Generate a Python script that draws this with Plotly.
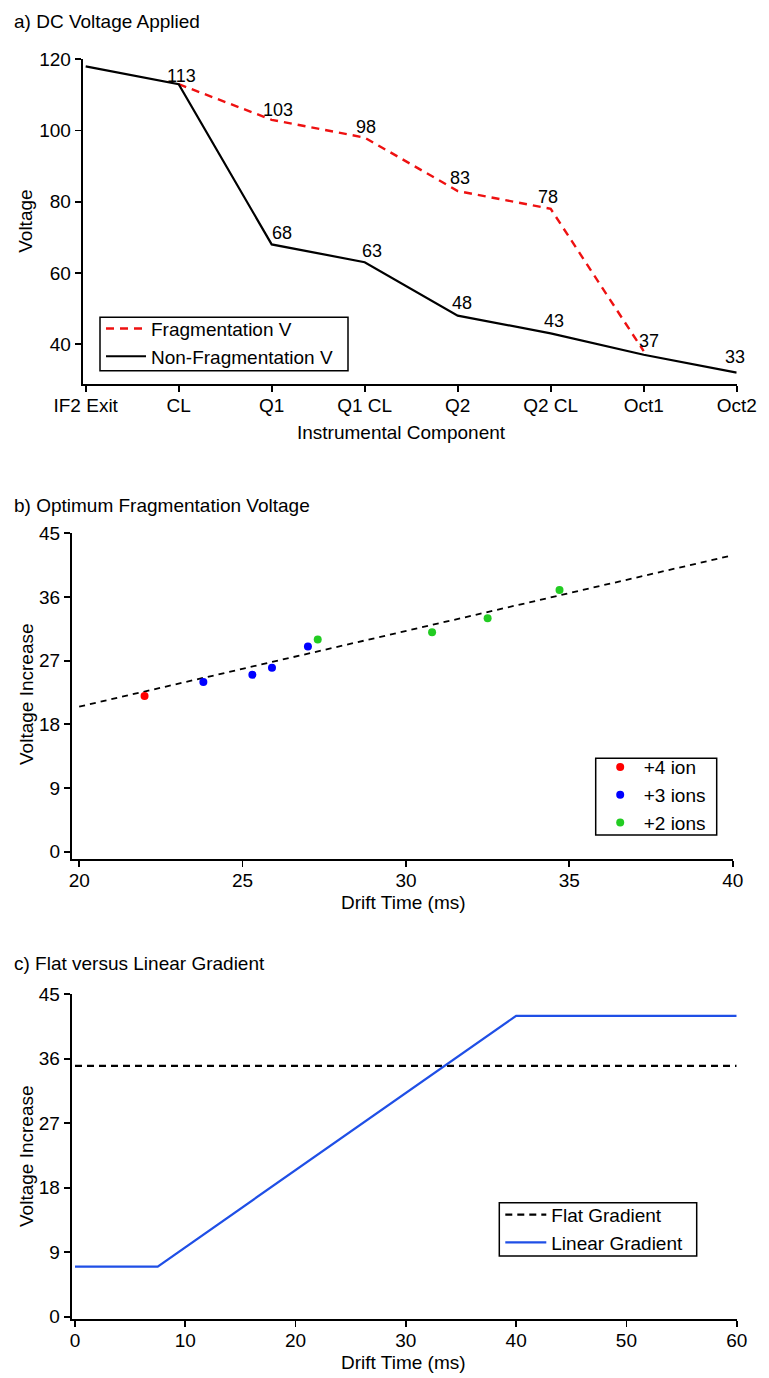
import plotly.graph_objects as go

W, H = 769, 1378
FONT = "Liberation Sans, Arial, sans-serif"
FS = 19

# ---------------- data ----------------
components = ["IF2 Exit", "CL", "Q1", "Q1 CL", "Q2", "Q2 CL", "Oct1", "Oct2"]
nonfrag_v = [118, 113, 68, 63, 48, 43, 37, 32]
frag_components = ["CL", "Q1", "Q1 CL", "Q2", "Q2 CL", "Oct1"]
frag_v = [113, 103, 98, 83, 78, 38]
nonfrag_labels = ["", "113", "68", "63", "48", "43", "", "33"]
frag_labels = ["", "103", "98", "83", "78", "37"]

ion4_x = [22.0]
ion4_y = [22.0]
ion3_x = [23.8, 25.3, 25.9, 27.0]
ion3_y = [24.0, 25.0, 26.0, 29.0]
ion2_x = [27.3, 30.8, 32.5, 34.7]
ion2_y = [30.0, 31.0, 33.0, 37.0]
fit_x = [20, 40]
fit_y = [20.5, 41.9]

flat_x = [0, 60]
flat_y = [35, 35]
lin_x = [0, 7.5, 40, 60]
lin_y = [7, 7, 42, 42]

# label offsets (px) for the data labels in panel a
nonfrag_off = [(0, 0), (3, 8), (10, 11), (7, 11), (4, 13), (3, 12), (0, 0), (-2, 16)]
frag_off = [(0, 0), (6, 10), (1, 11), (2, 13), (-3, 12), (5, 10)]


def px(x):
    return x / W


def py(y):
    return 1 - y / H


fig = go.Figure()

# ---------------- panel a ----------------
fig.add_trace(go.Scatter(x=frag_components, y=frag_v, mode="lines",
                         name="Fragmentation V",
                         line=dict(color="#ee1111", width=2.4, dash="8px,6px"),
                         xaxis="x", yaxis="y", legend="legend"))
fig.add_trace(go.Scatter(x=components, y=nonfrag_v, mode="lines",
                         name="Non-Fragmentation V",
                         line=dict(color="black", width=2.2),
                         xaxis="x", yaxis="y", legend="legend"))

# ---------------- panel b ----------------
fig.add_trace(go.Scatter(x=fit_x, y=fit_y, mode="lines", showlegend=False,
                         line=dict(color="black", width=1.8, dash="6px,5px"),
                         xaxis="x2", yaxis="y2"))
fig.add_trace(go.Scatter(x=ion4_x, y=ion4_y, mode="markers", name="+4 ion",
                         marker=dict(color="#ff0000", size=8),
                         xaxis="x2", yaxis="y2", legend="legend2"))
fig.add_trace(go.Scatter(x=ion3_x, y=ion3_y, mode="markers", name="+3 ions",
                         marker=dict(color="#0000ff", size=8),
                         xaxis="x2", yaxis="y2", legend="legend2"))
fig.add_trace(go.Scatter(x=ion2_x, y=ion2_y, mode="markers", name="+2 ions",
                         marker=dict(color="#22cc22", size=8),
                         xaxis="x2", yaxis="y2", legend="legend2"))

# ---------------- panel c ----------------
fig.add_trace(go.Scatter(x=flat_x, y=flat_y, mode="lines", name="Flat Gradient",
                         line=dict(color="black", width=2.2, dash="7px,5px"),
                         xaxis="x3", yaxis="y3", legend="legend3"))
fig.add_trace(go.Scatter(x=lin_x, y=lin_y, mode="lines", name="Linear Gradient",
                         line=dict(color="#1f4fe6", width=2.2),
                         xaxis="x3", yaxis="y3", legend="legend3"))

annotations = []
for comp, v, lab, (dx, dy) in zip(components, nonfrag_v, nonfrag_labels, nonfrag_off):
    if lab:
        annotations.append(dict(x=comp, y=v, xref="x", yref="y", text=lab,
                                showarrow=False, xanchor="center", yanchor="middle",
                                xshift=dx, yshift=dy, font=dict(size=18)))
for comp, v, lab, (dx, dy) in zip(frag_components, frag_v, frag_labels, frag_off):
    if lab:
        annotations.append(dict(x=comp, y=v, xref="x", yref="y", text=lab,
                                showarrow=False, xanchor="center", yanchor="middle",
                                xshift=dx, yshift=dy, font=dict(size=18)))

# panel titles
for text, ycen in [("a) DC Voltage Applied", 21.7),
                   ("b) Optimum Fragmentation Voltage", 505),
                   ("c) Flat versus Linear Gradient", 963)]:
    annotations.append(dict(x=px(12), y=py(ycen), xref="paper", yref="paper",
                            text=text, showarrow=False, xanchor="left",
                            yanchor="middle"))
# axis titles
for text, xc, yc, ang in [("Voltage", 26, 221.8, -90),
                          ("Instrumental Component", 401, 433, 0),
                          ("Voltage Increase", 26, 694, -90),
                          ("Drift Time (ms)", 404, 902, 0),
                          ("Voltage Increase", 26, 1156, -90),
                          ("Drift Time (ms)", 404, 1362, 0)]:
    annotations.append(dict(x=px(xc), y=py(yc), xref="paper", yref="paper",
                            text=text, showarrow=False, xanchor="center",
                            yanchor="middle", textangle=ang))

# legend frames
shapes = []
for x0, y0, x1, y1 in [(100, 317.3, 348, 370.7),
                       (595.7, 758.3, 716.7, 835),
                       (499.3, 1202.7, 696.7, 1256)]:
    shapes.append(dict(type="rect", xref="paper", yref="paper",
                       x0=px(x0), x1=px(x1), y0=py(y1), y1=py(y0),
                       line=dict(color="black", width=1.5),
                       fillcolor="white", layer="above"))

axis_common = dict(showline=True, linewidth=2, linecolor="black", ticks="outside",
                   ticklen=6, tickwidth=1.8, tickcolor="black", showgrid=False,
                   zeroline=False, mirror=False, tickfont=dict(size=FS))
xaxis_extra = dict(ticklabelstandoff=-3)

legend_common = dict(bgcolor="rgba(0,0,0,0)", borderwidth=0,
                     font=dict(size=FS), xanchor="left", yanchor="top",
                     xref="paper", yref="paper", tracegroupgap=0,
                     itemclick=False, itemdoubleclick=False)

fig.update_layout(
    width=W, height=H,
    margin=dict(l=0, r=0, t=0, b=0, autoexpand=False),
    paper_bgcolor="white", plot_bgcolor="white",
    font=dict(family=FONT, size=FS, color="black"),
    annotations=annotations,
    shapes=shapes,
    hovermode=False,
    xaxis=dict(axis_common, **xaxis_extra, domain=[px(82.7), px(736.7)], type="category",
               categoryorder="array", categoryarray=components,
               range=[-0.032, 7], anchor="y"),
    yaxis=dict(axis_common, domain=[py(384.3), py(59.3)], range=[28.7, 120],
               tickvals=[40, 60, 80, 100, 120], anchor="x"),
    xaxis2=dict(axis_common, **xaxis_extra, domain=[px(72), px(732.7)], range=[19.78, 40],
                tickvals=[20, 25, 30, 35, 40], anchor="y2"),
    yaxis2=dict(axis_common, domain=[py(859), py(533.3)], range=[-1.03, 45],
                tickvals=[0, 9, 18, 27, 36, 45], anchor="x2"),
    xaxis3=dict(axis_common, **xaxis_extra, domain=[px(71.7), px(736.7)], range=[-0.3, 60],
                tickvals=[0, 10, 20, 30, 40, 50, 60], anchor="y3"),
    yaxis3=dict(axis_common, domain=[py(1319.3), py(994.3)], range=[-0.36, 45],
                tickvals=[0, 9, 18, 27, 36, 45], anchor="x3"),
    legend=dict(legend_common, x=px(101), y=py(309.7), itemwidth=40),
    legend2=dict(legend_common, x=px(596.7), y=py(748.2), itemwidth=37),
    legend3=dict(legend_common, x=px(500.3), y=py(1195.8), itemwidth=41),
    showlegend=True,
)

fig.write_html(
    "out.html",
    config={"displayModeBar": False, "staticPlot": True},
    post_script="document.body.style.margin='0';document.body.style.padding='0';"
                "document.body.style.overflow='hidden';",
)
